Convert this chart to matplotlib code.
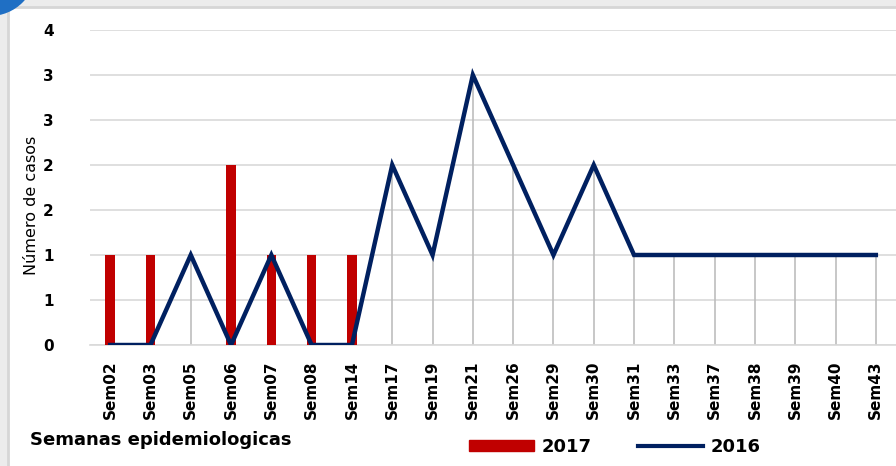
import numpy as np
import matplotlib.pyplot as plt
from matplotlib.patches import Rectangle, Circle
from matplotlib.lines import Line2D
from matplotlib.ticker import FuncFormatter, MultipleLocator

semanas = ["Sem02", "Sem03", "Sem05", "Sem06", "Sem07", "Sem08", "Sem14", "Sem17",
           "Sem19", "Sem21", "Sem26", "Sem29", "Sem30", "Sem31", "Sem33", "Sem37",
           "Sem38", "Sem39", "Sem40", "Sem43"]
casos_2017 = [1, 1, 0, 2, 1, 1, 1, 0, 0, 0, 0, 0, 0, 0, 0, 0, 0, 0, 0, 0]
casos_2016 = [0, 0, 1, 0, 1, 0, 0, 2, 1, 3, 2, 1, 2, 1, 1, 1, 1, 1, 1, 1]

RED = "#c00000"
NAVY = "#002060"

fig = plt.figure(figsize=(8.96, 4.66), dpi=100)
fig.patch.set_facecolor("#ececec")

# white panel with thin grey frame, blue corner decoration
fig.patches.append(Rectangle((8 / 896, -0.01), 1, 1 - 7 / 466 + 0.01, transform=fig.transFigure,
                             facecolor="white", edgecolor="#d6d6d6", linewidth=2, zorder=-2))
corner = Circle((-10, 466 + 30), 46, transform=None,
                facecolor="#1f6fc4", edgecolor="none", zorder=-1)
fig.patches.append(corner)

ax = fig.add_axes([90 / 896, 1 - 345 / 466, 1 - 90 / 896, (345 - 30) / 466])
ax.set_zorder(2)
ax.set_facecolor("none")

x = np.arange(len(semanas))
ax.bar(x, casos_2017, width=0.24, color=RED, zorder=3, label="2017")
ax.vlines(x, 0, casos_2016, color="#bdbdbd", linewidth=1.2, zorder=2)
ax.plot(x, casos_2016, color=NAVY, linewidth=3.2, zorder=4, label="2016",
        solid_joinstyle="miter")

ax.set_xlim(-0.5, len(semanas) - 0.5)
ax.set_ylim(0, 3.5)
ax.yaxis.set_major_locator(MultipleLocator(0.5))
ax.yaxis.set_major_formatter(FuncFormatter(lambda v, p: f"{int(np.floor(v + 0.5))}"))
ax.grid(axis="y", color="#d9d9d9", linewidth=1.2, zorder=0)
ax.set_axisbelow(True)

ax.set_xticks(x)
ax.set_xticklabels(semanas, rotation=90, fontsize=11, fontweight="bold")
for lbl in ax.get_yticklabels():
    lbl.set_fontweight("bold")
    lbl.set_fontsize(11)
ax.tick_params(axis="both", length=0)
ax.tick_params(axis="y", pad=26)
ax.tick_params(axis="x", pad=11)

for s in ["top", "right", "left"]:
    ax.spines[s].set_visible(False)
ax.spines["bottom"].set_color("#d9d9d9")
ax.spines["bottom"].set_linewidth(1.2)

fig.text(32 / 896, 1 - 205 / 466, "Número de casos", rotation=90, fontsize=11.5,
         ha="center", va="center")
fig.text(30 / 896, 1 - 440 / 466, "Semanas epidemiologicas", fontsize=13,
         fontweight="bold", ha="left", va="center")

handles = [Rectangle((0, 0), 1, 1, color=RED),
           Line2D([0], [0], color=NAVY, linewidth=3)]
fig.legend(handles, ["2017", "2016"], loc="center", ncol=2,
           bbox_to_anchor=(615 / 896, 1 - 447 / 466), frameon=False,
           prop={"weight": "bold", "size": 13}, handlelength=3.6,
           handleheight=0.6, columnspacing=2.6, handletextpad=0.4)

fig.savefig("out.png", dpi=100, facecolor=fig.get_facecolor())
